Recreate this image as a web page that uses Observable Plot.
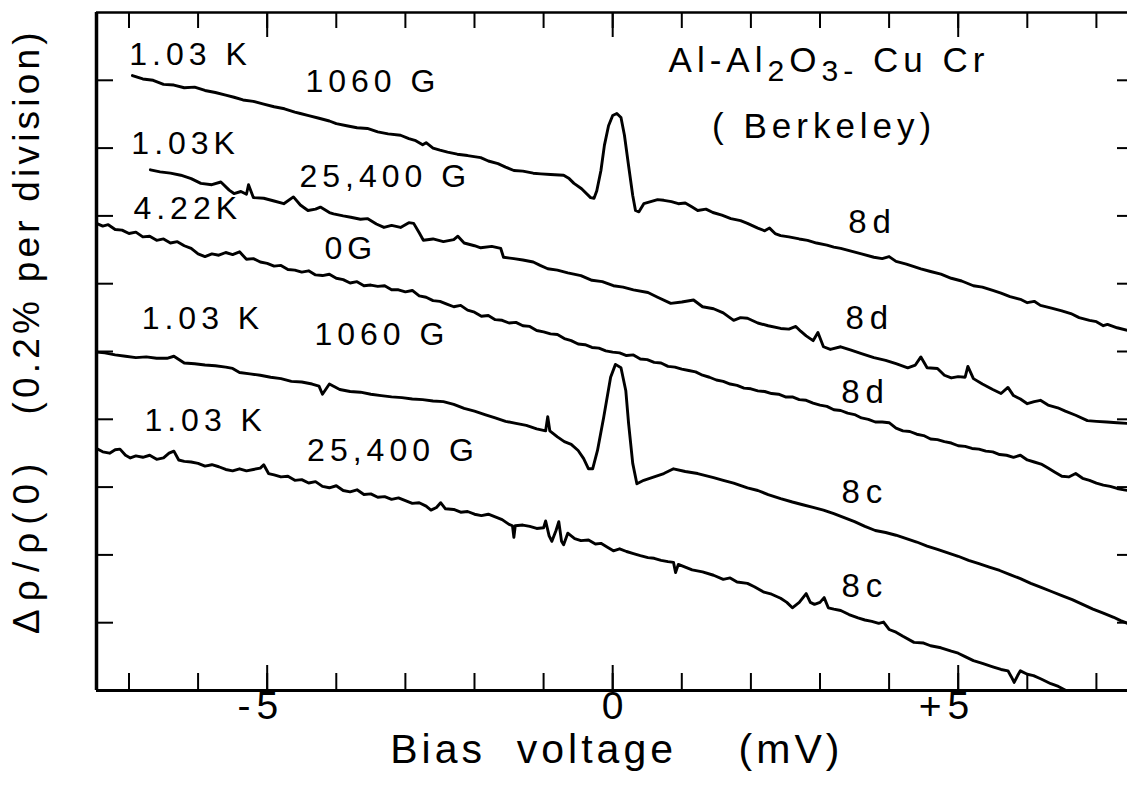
<!DOCTYPE html>
<html>
<head>
<meta charset="utf-8">
<script src="https://cdn.jsdelivr.net/npm/d3@7"></script>
<script src="https://cdn.jsdelivr.net/npm/@observablehq/plot@0.6"></script>
<style>
  html, body { margin: 0; padding: 0; background: #fff; }
  #chart svg { display: block; }
</style>
</head>
<body>
<div id="chart"></div>
<script>
// ---- Data: bias voltage (mV) vs. Δρ/ρ(0) in divisions (0.2% per division) ----
const curve1060G_103K_upper = [
  [-6.95, 9.07], [-6.8, 9.02], [-6.65, 9.00], [-6.5, 8.94], [-6.35, 8.93], [-6.2, 8.89], [-6.05, 8.90],
  [-5.9, 8.85], [-5.75, 8.82], [-5.6, 8.78], [-5.48, 8.75], [-5.35, 8.71], [-5.2, 8.69], [-5.05, 8.65],
  [-4.9, 8.61], [-4.75, 8.58], [-4.6, 8.53], [-4.52, 8.51], [-4.4, 8.48], [-4.25, 8.44], [-4.1, 8.40],
  [-4.0, 8.36], [-3.85, 8.33], [-3.7, 8.30], [-3.55, 8.29], [-3.4, 8.24], [-3.25, 8.21], [-3.07, 8.19],
  [-2.95, 8.14], [-2.85, 8.11], [-2.75, 8.05], [-2.7, 8.08], [-2.6, 8.00], [-2.5, 7.97], [-2.39, 7.94],
  [-2.25, 7.91], [-2.1, 7.89], [-1.91, 7.86], [-1.8, 7.81], [-1.66, 7.77], [-1.55, 7.72], [-1.43, 7.67],
  [-1.3, 7.66], [-1.15, 7.63], [-1.04, 7.62], [-0.9, 7.61], [-0.71, 7.60], [-0.63, 7.55], [-0.56, 7.48],
  [-0.45, 7.40], [-0.32, 7.27], [-0.27, 7.26], [-0.23, 7.37], [-0.17, 7.67], [-0.12, 8.04], [-0.06, 8.33],
  [0.0, 8.48], [0.06, 8.51], [0.12, 8.45], [0.17, 8.19], [0.23, 7.74], [0.29, 7.30], [0.33, 7.08],
  [0.38, 7.06], [0.45, 7.18], [0.55, 7.21], [0.65, 7.24], [0.74, 7.23], [0.85, 7.21], [0.95, 7.18],
  [1.05, 7.19], [1.15, 7.13], [1.23, 7.08], [1.35, 7.10], [1.45, 7.05], [1.58, 7.01], [1.71, 6.96],
  [1.85, 6.93], [1.95, 6.89], [2.1, 6.82], [2.2, 6.78], [2.27, 6.82], [2.35, 6.74], [2.43, 6.71],
  [2.55, 6.69], [2.7, 6.66], [2.82, 6.64], [2.95, 6.60], [3.1, 6.57], [3.2, 6.54], [3.3, 6.52],
  [3.45, 6.48], [3.6, 6.44], [3.78, 6.39], [3.9, 6.37], [4.0, 6.40], [4.1, 6.33], [4.25, 6.29],
  [4.46, 6.22], [4.6, 6.18], [4.75, 6.14], [4.9, 6.08], [5.05, 6.04], [5.22, 5.97], [5.35, 5.95],
  [5.5, 5.90], [5.62, 5.86], [5.75, 5.81], [5.9, 5.77], [6.0, 5.72], [6.1, 5.74], [6.19, 5.68],
  [6.35, 5.64], [6.5, 5.60], [6.63, 5.56], [6.75, 5.50], [6.9, 5.46], [7.0, 5.44], [7.1, 5.38],
  [7.16, 5.40], [7.3, 5.35], [7.45, 5.31]
];

const curve25400G_103K_upper = [
  [-6.69, 7.68], [-6.55, 7.65], [-6.4, 7.63], [-6.25, 7.60], [-6.1, 7.55], [-5.96, 7.48], [-5.8, 7.46],
  [-5.67, 7.50], [-5.55, 7.38], [-5.48, 7.33], [-5.38, 7.36], [-5.3, 7.32], [-5.27, 7.46], [-5.2, 7.27],
  [-5.05, 7.26], [-4.9, 7.22], [-4.76, 7.18], [-4.62, 7.28], [-4.52, 7.16], [-4.41, 7.08], [-4.3, 7.10],
  [-4.23, 7.13], [-4.1, 7.05], [-4.04, 7.03], [-3.9, 7.00], [-3.79, 6.98], [-3.65, 6.95], [-3.55, 6.96],
  [-3.42, 6.88], [-3.31, 6.83], [-3.2, 6.86], [-3.07, 6.83], [-2.95, 6.90], [-2.88, 6.89], [-2.8, 6.75],
  [-2.74, 6.64], [-2.6, 6.66], [-2.45, 6.62], [-2.3, 6.65], [-2.24, 6.70], [-2.15, 6.60], [-2.0, 6.56],
  [-1.91, 6.53], [-1.75, 6.55], [-1.62, 6.52], [-1.58, 6.39], [-1.43, 6.37], [-1.3, 6.35], [-1.15, 6.32],
  [-1.05, 6.27], [-0.94, 6.22], [-0.8, 6.20], [-0.65, 6.16], [-0.46, 6.12], [-0.3, 6.05], [-0.15, 6.03],
  [0.01, 5.97], [0.15, 5.95], [0.3, 5.91], [0.51, 5.87], [0.65, 5.80], [0.84, 5.71], [1.0, 5.73],
  [1.17, 5.76], [1.3, 5.66], [1.46, 5.63], [1.6, 5.57], [1.75, 5.46], [1.85, 5.50], [1.95, 5.49],
  [2.1, 5.42], [2.25, 5.38], [2.43, 5.34], [2.55, 5.33], [2.65, 5.37], [2.72, 5.30], [2.8, 5.23],
  [2.9, 5.16], [2.97, 5.28], [3.05, 5.07], [3.15, 5.03], [3.3, 5.07], [3.45, 5.02], [3.6, 4.97],
  [3.78, 4.91], [3.95, 4.87], [4.1, 4.82], [4.27, 4.76], [4.38, 4.80], [4.46, 4.92], [4.55, 4.76],
  [4.7, 4.75], [4.8, 4.65], [4.9, 4.61], [5.0, 4.63], [5.1, 4.62], [5.14, 4.78], [5.22, 4.60],
  [5.35, 4.52], [5.5, 4.44], [5.62, 4.38], [5.72, 4.47], [5.8, 4.35], [5.9, 4.30], [6.0, 4.23],
  [6.1, 4.26], [6.19, 4.28], [6.3, 4.21], [6.44, 4.17], [6.55, 4.12], [6.7, 4.06], [6.87, 3.98],
  [7.0, 3.97], [7.15, 3.96], [7.3, 3.95], [7.45, 3.94]
];

const curve0G_422K = [
  [-7.47, 6.89], [-7.38, 6.85], [-7.3, 6.87], [-7.2, 6.80], [-7.1, 6.79], [-7.0, 6.74], [-6.9, 6.76],
  [-6.8, 6.69], [-6.7, 6.70], [-6.6, 6.64], [-6.5, 6.66], [-6.4, 6.60], [-6.3, 6.62], [-6.2, 6.56],
  [-6.1, 6.52], [-6.0, 6.44], [-5.9, 6.40], [-5.8, 6.44], [-5.7, 6.42], [-5.6, 6.46], [-5.5, 6.43],
  [-5.4, 6.47], [-5.3, 6.36], [-5.2, 6.37], [-5.1, 6.32], [-5.0, 6.30], [-4.9, 6.26], [-4.8, 6.27],
  [-4.7, 6.21], [-4.6, 6.20], [-4.5, 6.17], [-4.4, 6.19], [-4.3, 6.13], [-4.2, 6.12], [-4.1, 6.14],
  [-4.0, 6.08], [-3.9, 6.06], [-3.8, 6.01], [-3.7, 6.03], [-3.6, 5.97], [-3.5, 5.98], [-3.4, 5.96],
  [-3.3, 5.97], [-3.2, 5.91], [-3.1, 5.91], [-3.0, 5.88], [-2.9, 5.90], [-2.8, 5.82], [-2.7, 5.80],
  [-2.6, 5.75], [-2.5, 5.74], [-2.4, 5.70], [-2.3, 5.66], [-2.2, 5.68], [-2.1, 5.61], [-2.0, 5.58],
  [-1.9, 5.52], [-1.8, 5.53], [-1.7, 5.47], [-1.6, 5.46], [-1.5, 5.42], [-1.4, 5.43], [-1.3, 5.38],
  [-1.2, 5.37], [-1.1, 5.31], [-1.0, 5.29], [-0.9, 5.26], [-0.8, 5.25], [-0.7, 5.19], [-0.6, 5.16],
  [-0.5, 5.11], [-0.4, 5.10], [-0.3, 5.06], [-0.2, 5.05], [-0.1, 5.01], [0.0, 4.99], [0.1, 4.98],
  [0.2, 4.94], [0.3, 4.95], [0.4, 4.89], [0.5, 4.88], [0.6, 4.84], [0.7, 4.83], [0.8, 4.78],
  [0.9, 4.77], [1.0, 4.74], [1.1, 4.72], [1.2, 4.70], [1.3, 4.65], [1.4, 4.62], [1.5, 4.58],
  [1.6, 4.56], [1.7, 4.52], [1.8, 4.50], [1.9, 4.46], [2.0, 4.45], [2.1, 4.42], [2.2, 4.41],
  [2.3, 4.38], [2.4, 4.37], [2.5, 4.33], [2.6, 4.33], [2.7, 4.29], [2.8, 4.28], [2.9, 4.24],
  [3.0, 4.21], [3.1, 4.19], [3.2, 4.14], [3.3, 4.13], [3.4, 4.09], [3.5, 4.07], [3.6, 4.02],
  [3.7, 4.00], [3.8, 3.96], [3.9, 3.96], [4.0, 3.95], [4.1, 3.87], [4.2, 3.83], [4.3, 3.82],
  [4.4, 3.78], [4.5, 3.76], [4.6, 3.71], [4.7, 3.70], [4.8, 3.67], [4.9, 3.65], [5.0, 3.61],
  [5.1, 3.60], [5.2, 3.57], [5.3, 3.56], [5.4, 3.53], [5.5, 3.52], [5.6, 3.48], [5.7, 3.47],
  [5.8, 3.44], [5.9, 3.47], [6.0, 3.40], [6.1, 3.37], [6.2, 3.34], [6.3, 3.28], [6.4, 3.22],
  [6.5, 3.16], [6.6, 3.15], [6.7, 3.20], [6.8, 3.13], [6.9, 3.10], [7.0, 3.06], [7.1, 3.03],
  [7.2, 3.01], [7.3, 2.98], [7.4, 2.96], [7.45, 2.95]
];

const curve1060G_103K_lower = [
  [-7.47, 4.99], [-7.35, 4.98], [-7.2, 4.95], [-7.05, 4.93], [-6.9, 4.91], [-6.75, 4.92], [-6.6, 4.90],
  [-6.45, 4.90], [-6.35, 4.93], [-6.2, 4.83], [-6.05, 4.82], [-5.9, 4.80], [-5.75, 4.79], [-5.6, 4.77],
  [-5.5, 4.75], [-5.4, 4.69], [-5.25, 4.67], [-5.1, 4.65], [-4.95, 4.62], [-4.8, 4.60], [-4.65, 4.56],
  [-4.5, 4.55], [-4.35, 4.52], [-4.25, 4.49], [-4.2, 4.37], [-4.1, 4.52], [-3.95, 4.44], [-3.8, 4.41],
  [-3.65, 4.40], [-3.5, 4.37], [-3.35, 4.35], [-3.2, 4.33], [-3.05, 4.32], [-2.9, 4.30], [-2.75, 4.29],
  [-2.6, 4.27], [-2.45, 4.26], [-2.3, 4.22], [-2.15, 4.16], [-2.0, 4.12], [-1.85, 4.07], [-1.7, 4.02],
  [-1.55, 3.97], [-1.4, 3.94], [-1.25, 3.91], [-1.1, 3.86], [-0.97, 3.83], [-0.94, 4.04], [-0.91, 3.83],
  [-0.8, 3.74], [-0.7, 3.67], [-0.6, 3.63], [-0.5, 3.54], [-0.42, 3.42], [-0.35, 3.27], [-0.29, 3.27],
  [-0.22, 3.54], [-0.13, 4.03], [-0.03, 4.62], [0.04, 4.81], [0.12, 4.76], [0.19, 4.42], [0.23, 3.94],
  [0.29, 3.35], [0.35, 3.05], [0.45, 3.10], [0.6, 3.15], [0.74, 3.20], [0.88, 3.27], [1.05, 3.23],
  [1.23, 3.20], [1.46, 3.14], [1.6, 3.10], [1.75, 3.06], [1.95, 2.99], [2.1, 2.95], [2.25, 2.89],
  [2.43, 2.83], [2.6, 2.78], [2.75, 2.74], [2.9, 2.70], [3.05, 2.66], [3.2, 2.61], [3.35, 2.55],
  [3.5, 2.49], [3.65, 2.42], [3.8, 2.36], [3.95, 2.33], [4.1, 2.29], [4.25, 2.24], [4.4, 2.19],
  [4.55, 2.13], [4.7, 2.08], [4.85, 2.03], [5.0, 1.98], [5.15, 1.92], [5.3, 1.87], [5.45, 1.82],
  [5.6, 1.77], [5.75, 1.71], [5.9, 1.65], [6.05, 1.58], [6.2, 1.52], [6.35, 1.46], [6.5, 1.40],
  [6.65, 1.34], [6.8, 1.27], [6.95, 1.20], [7.1, 1.14], [7.25, 1.08], [7.35, 1.03], [7.45, 0.99]
];

const curve25400G_103K_lower = [
  [-7.47, 3.57], [-7.38, 3.52], [-7.28, 3.50], [-7.2, 3.55], [-7.13, 3.56], [-7.05, 3.47], [-6.98, 3.43],
  [-6.9, 3.46], [-6.8, 3.44], [-6.7, 3.47], [-6.6, 3.41], [-6.5, 3.43], [-6.42, 3.50], [-6.35, 3.53],
  [-6.28, 3.40], [-6.2, 3.38], [-6.1, 3.37], [-6.0, 3.35], [-5.9, 3.31], [-5.8, 3.33], [-5.7, 3.30],
  [-5.6, 3.26], [-5.5, 3.24], [-5.4, 3.27], [-5.3, 3.24], [-5.2, 3.26], [-5.1, 3.28], [-5.05, 3.33],
  [-4.98, 3.20], [-4.9, 3.18], [-4.8, 3.15], [-4.7, 3.16], [-4.6, 3.10], [-4.5, 3.11], [-4.4, 3.06],
  [-4.3, 3.08], [-4.2, 3.01], [-4.1, 2.99], [-4.0, 3.02], [-3.9, 2.95], [-3.8, 2.93], [-3.7, 2.96],
  [-3.6, 2.89], [-3.5, 2.90], [-3.4, 2.85], [-3.3, 2.86], [-3.2, 2.82], [-3.1, 2.84], [-3.0, 2.80],
  [-2.9, 2.76], [-2.8, 2.77], [-2.7, 2.72], [-2.63, 2.66], [-2.55, 2.70], [-2.49, 2.77], [-2.42, 2.68],
  [-2.3, 2.67], [-2.2, 2.63], [-2.1, 2.64], [-2.0, 2.60], [-1.9, 2.58], [-1.8, 2.60], [-1.7, 2.56],
  [-1.6, 2.52], [-1.5, 2.45], [-1.45, 2.43], [-1.43, 2.26], [-1.41, 2.43], [-1.3, 2.44], [-1.2, 2.42],
  [-1.1, 2.39], [-1.0, 2.40], [-0.97, 2.50], [-0.92, 2.28], [-0.88, 2.20], [-0.82, 2.36], [-0.78, 2.49],
  [-0.74, 2.20], [-0.71, 2.15], [-0.65, 2.32], [-0.55, 2.24], [-0.46, 2.21], [-0.35, 2.22], [-0.25, 2.16],
  [-0.17, 2.17], [-0.07, 2.11], [0.01, 2.06], [0.1, 2.09], [0.2, 2.05], [0.3, 2.02], [0.4, 1.99],
  [0.51, 1.96], [0.6, 1.95], [0.7, 1.92], [0.8, 1.90], [0.88, 1.89], [0.91, 1.74], [0.95, 1.86],
  [1.05, 1.82], [1.15, 1.78], [1.3, 1.75], [1.46, 1.70], [1.6, 1.64], [1.7, 1.66], [1.8, 1.60],
  [1.95, 1.58], [2.05, 1.53], [2.19, 1.45], [2.3, 1.42], [2.43, 1.36], [2.52, 1.30], [2.6, 1.22],
  [2.7, 1.30], [2.8, 1.43], [2.86, 1.30], [2.92, 1.27], [3.0, 1.30], [3.06, 1.37], [3.12, 1.22],
  [3.2, 1.20], [3.3, 1.18], [3.42, 1.12], [3.55, 1.07], [3.65, 1.04], [3.75, 1.02], [3.85, 0.99],
  [3.92, 1.01], [4.0, 0.90], [4.1, 0.86], [4.2, 0.80], [4.36, 0.71], [4.5, 0.70], [4.6, 0.66],
  [4.75, 0.63], [4.9, 0.58], [5.0, 0.55], [5.1, 0.50], [5.22, 0.44], [5.35, 0.40], [5.5, 0.35],
  [5.62, 0.31], [5.72, 0.29], [5.77, 0.20], [5.81, 0.12], [5.86, 0.22], [5.9, 0.29], [6.0, 0.24],
  [6.09, 0.22], [6.2, 0.17], [6.34, 0.10], [6.45, 0.06], [6.56, 0.0]
];

const seriesNames = ["1.03 K 1060 G (8d)", "1.03 K 25,400 G (8d)", "4.22 K 0 G (8d)", "1.03 K 1060 G (8c)", "1.03 K 25,400 G (8c)"];
const seriesPoints = [curve1060G_103K_upper, curve25400G_103K_upper, curve0G_422K, curve1060G_103K_lower, curve25400G_103K_lower];

// Annotation texts placed at (mV, divisions)
const curveLabels = [
  {text: "1.03 K", v: -6.11, d: 9.37},
  {text: "1060 G", v: -3.47, d: 8.98},
  {text: "1.03K", v: -6.18, d: 8.07},
  {text: "25,400 G", v: -3.29, d: 7.58},
  {text: "4.22K", v: -6.15, d: 7.11},
  {text: "0G", v: -3.79, d: 6.52},
  {text: "1.03 K", v: -5.93, d: 5.49},
  {text: "1060 G", v: -3.34, d: 5.24},
  {text: "1.03 K", v: -5.89, d: 3.98},
  {text: "25,400 G", v: -3.18, d: 3.54}
];
const sampleLabels = [
  {text: "8d", v: 3.76, d: 6.90},
  {text: "8d", v: 3.72, d: 5.49},
  {text: "8d", v: 3.66, d: 4.40},
  {text: "8c", v: 3.65, d: 2.92},
  {text: "8c", v: 3.65, d: 1.53}
];
const junctionLabels = [
  {text: "Al-Al2O3- Cu Cr", v: 3.13, d: 9.29},
  {text: "( Berkeley)", v: 3.06, d: 8.32}
];

const xMinorTicks = [-7, -6, -5, -4, -3, -2, -1, 0, 1, 2, 3, 4, 5, 6, 7];
const xMajorTicks = [-5, 0, 5];
const xTickLabels = [
  {v: -5, text: "-5", anchor: "end"},
  {v: 0, text: "0", anchor: "middle"},
  {v: 5, text: "+5", anchor: "end"}
];
const yTicks = [1, 2, 3, 4, 5, 6, 7, 8, 9];
const xTitle = "Bias\u00a0 voltage\u00a0\u00a0\u00a0\u00a0(mV)";
const yTitleA = "Δρ/ρ(0)";
const yTitleB = "(0.2% per division)";

// ---- Layout ----
const W = 1127, H = 785;
const mL = 96, mR = 0, mT = 12, mB = 95;
const fw = W - mL - mR, fh = H - mT - mB;
const xDomain = [-7.47, 7.45];
const font = "'Liberation Sans', Arial, sans-serif";

const rows = seriesPoints.flatMap((pts, i) => pts.map(([v, d]) => ({id: seriesNames[i], v, d})));

const plot = Plot.plot({
  width: W, height: H,
  marginLeft: mL, marginRight: mR, marginTop: mT, marginBottom: mB,
  x: {domain: xDomain, axis: null},
  y: {domain: [0, 10], axis: null},
  style: {fontFamily: font, background: "#fff", color: "#000", overflow: "visible"},
  marks: [
    // frame (top, bottom, left)
    Plot.ruleY([0], {stroke: "#000", strokeWidth: 3}),
    Plot.ruleY([10], {stroke: "#000", strokeWidth: 2.5}),
    Plot.ruleX([xDomain[0]], {stroke: "#000", strokeWidth: 3.5}),
    // inward ticks
    Plot.ruleX(xMinorTicks, {stroke: "#000", strokeWidth: 2, insetTop: fh - 17}),
    Plot.ruleX(xMajorTicks, {stroke: "#000", strokeWidth: 2, insetTop: fh - 25}),
    Plot.ruleX(xMinorTicks, {stroke: "#000", strokeWidth: 2, insetBottom: fh - 16}),
    Plot.ruleX(xMajorTicks, {stroke: "#000", strokeWidth: 2, insetBottom: fh - 25}),
    Plot.ruleY(yTicks, {stroke: "#000", strokeWidth: 2, insetRight: fw - 17}),
    Plot.ruleY(yTicks, {stroke: "#000", strokeWidth: 2, insetLeft: fw - 10}),
    // traces
    Plot.line(rows, {x: "v", y: "d", z: "id", stroke: "#000", strokeWidth: 2.9,
      strokeLinejoin: "round", strokeLinecap: "round"}),
    // annotations
    Plot.text(curveLabels, {x: "v", y: "d", text: "text", fontSize: 32, fill: "#000"}),
    Plot.text(sampleLabels, {x: "v", y: "d", text: "text", fontSize: 33, fill: "#000"}),
    Plot.text(junctionLabels, {x: "v", y: "d", text: "text", fontSize: 35, fill: "#000"}),
    // x tick labels
    Plot.text(xTickLabels.filter(d => d.anchor === "end"), {x: "v", text: "text", frameAnchor: "bottom",
      dy: 28, dx: 17, textAnchor: "end", fontSize: 39, fill: "#000"}),
    Plot.text(xTickLabels.filter(d => d.anchor === "middle"), {x: "v", text: "text", frameAnchor: "bottom",
      dy: 28, fontSize: 39, fill: "#000"}),
    // axis titles
    Plot.text([xTitle], {x: 0.06, frameAnchor: "bottom", dy: 72, fontSize: 41, fill: "#000"}),
    Plot.text([yTitleA], {y: 2.15, frameAnchor: "left", textAnchor: "middle", dx: -69, rotate: -90, fontSize: 37, fill: "#000"}),
    Plot.text([yTitleB], {y: 6.92, frameAnchor: "left", textAnchor: "middle", dx: -69, rotate: -90, fontSize: 37, fill: "#000"})
  ]
});

document.getElementById("chart").append(plot);

// letter spacing to mimic the wide technical lettering
const spacing = new Map([
  ["-5", 6], ["+5", 6], ["0", 0],
  ["8d", 6], ["8c", 6],
  ["Al-Al2O3- Cu Cr", 5], ["( Berkeley)", 5],
  [xTitle, 4], [yTitleA, 8], [yTitleB, 4.2]
]);
d3.select(plot).selectAll("text").each(function () {
  const t = this.textContent;
  const ls = spacing.has(t) ? spacing.get(t) : 5;
  this.style.letterSpacing = ls + "px";
  if (t === "Al-Al2O3- Cu Cr") {
    const parts = [["Al-Al", 0, null], ["2", 9, "0.86em"], ["O", -9, null], ["3-", 9, "0.86em"], [" Cu Cr", -9, null]];
    this.textContent = "";
    const sel = d3.select(this);
    for (const [s, dy, fs] of parts) {
      const ts = sel.append("tspan").attr("dy", dy).text(s);
      if (fs) ts.attr("font-size", fs);
    }
    sel.attr("xml:space", "preserve").style("white-space", "pre");
  }
});
</script>
</body>
</html>
